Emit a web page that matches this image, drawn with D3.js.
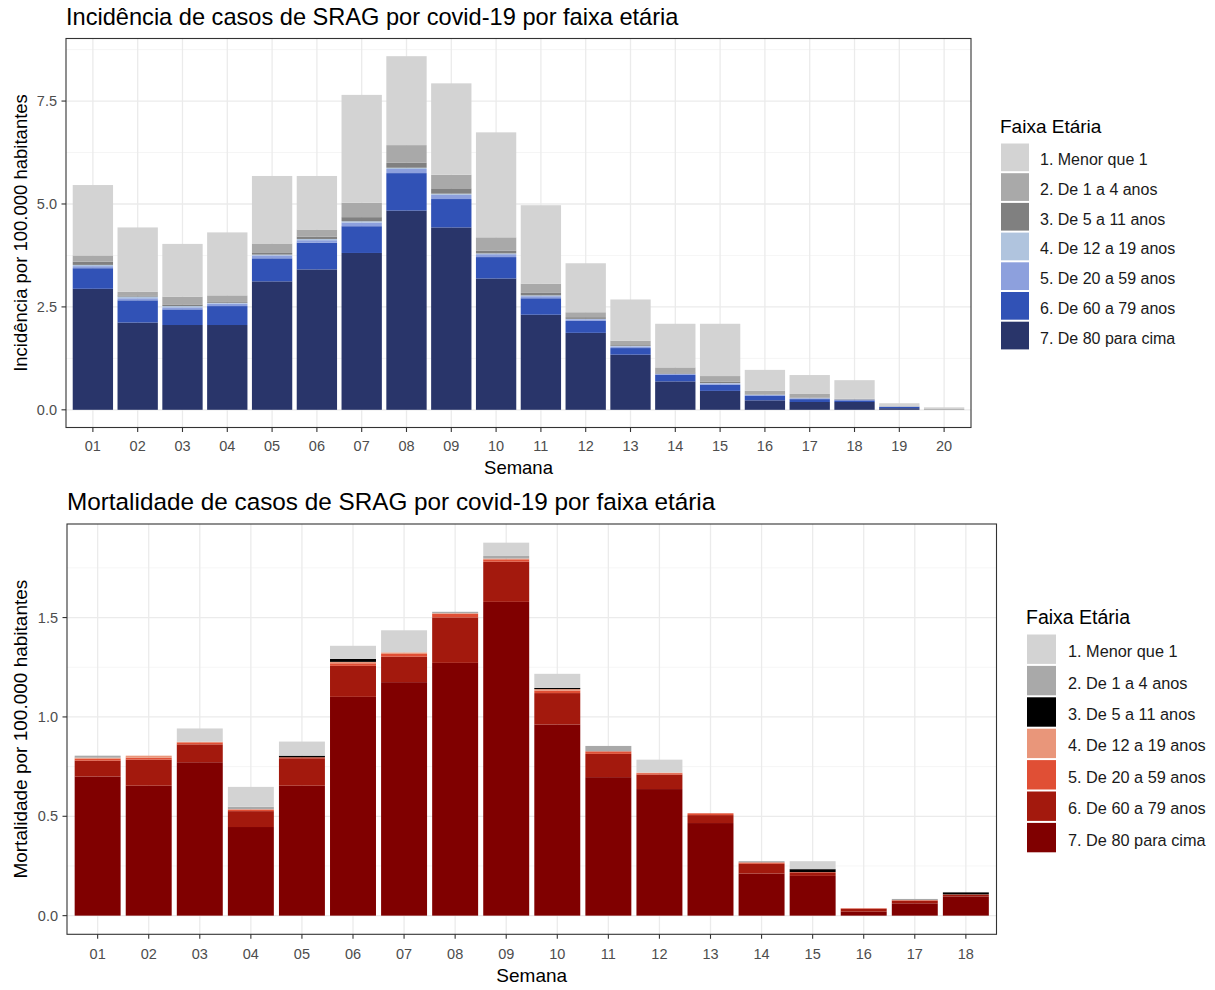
<!DOCTYPE html>
<html>
<head>
<meta charset="utf-8">
<script src="https://cdn.jsdelivr.net/npm/d3@7"></script>
<style>
  html, body { margin: 0; padding: 0; background: #fff; }
  svg { display: block; font-family: "Liberation Sans", Arial, sans-serif; }
</style>
</head>
<body>
<svg id="chart" width="1215" height="990"></svg>
<script>
// ---------- DATA ----------
const groupLabels = ["1. Menor que 1", "2. De 1 a 4 anos", "3. De 5 a 11 anos", "4. De 12 a 19 anos",
                     "5. De 20 a 59 anos", "6. De 60 a 79 anos", "7. De 80 para cima"];

// Incidence chart
const weeksInc = ["01","02","03","04","05","06","07","08","09","10","11","12","13","14","15","16","17","18","19","20"];
const inc1 = [1.71,1.56,1.28,1.53,1.64,1.30,2.62,2.16,2.22,2.55,1.91,1.19,1.00,1.06,1.27,0.51,0.46,0.45,0.07,0.04];
const inc2 = [0.15,0.09,0.19,0.16,0.23,0.17,0.35,0.43,0.33,0.32,0.22,0.12,0.11,0.12,0.14,0.08,0.09,0.01,0.01,0.02];
const inc3 = [0.08,0.03,0.04,0.02,0.04,0.06,0.10,0.12,0.13,0.07,0.06,0.04,0.02,0.03,0.03,0.01,0.01,0.01,0,0];
const inc4 = [0.03,0.04,0.03,0.02,0.02,0.03,0.03,0.03,0.03,0.02,0.02,0.01,0.01,0.01,0.01,0.01,0.005,0,0,0];
const inc5 = [0.05,0.05,0.05,0.06,0.07,0.06,0.09,0.10,0.10,0.07,0.05,0.04,0.04,0.02,0.03,0.02,0.02,0.02,0.01,0];
const inc6 = [0.50,0.54,0.38,0.46,0.56,0.65,0.65,0.91,0.69,0.52,0.40,0.29,0.16,0.16,0.15,0.11,0.07,0.04,0.03,0];
const inc7 = [2.94,2.12,2.06,2.06,3.12,3.41,3.81,4.84,4.43,3.19,2.31,1.87,1.34,0.69,0.46,0.23,0.19,0.19,0.04,0];
const incTicks = [0, 2.5, 5.0, 7.5];
const incColors = ["#d3d3d3","#a9a9a9","#808080","#b0c4de","#8da0dd","#3152b6","#29356a"];

// Mortality chart
const weeksMort = ["01","02","03","04","05","06","07","08","09","10","11","12","13","14","15","16","17","18"];
const mort1 = [0,0,0.067,0.10,0.071,0.066,0.111,0,0.067,0.071,0,0.065,0,0,0.04,0,0,0];
const mort2 = [0.01,0,0,0.012,0,0,0,0.007,0.013,0,0.027,0,0,0.006,0,0,0.006,0];
const mort3 = [0,0,0,0,0.008,0.015,0,0,0,0.006,0,0,0,0,0.015,0,0,0.01];
const mort4 = [0.005,0.01,0.003,0.002,0,0.007,0.008,0.003,0.004,0.007,0,0.003,0,0,0,0,0,0];
const mort5 = [0.01,0.01,0.01,0.008,0.005,0.013,0.014,0.018,0.012,0.013,0.013,0.007,0.009,0.007,0.004,0.002,0.003,0.002];
const mort6 = [0.08,0.131,0.09,0.08,0.138,0.156,0.128,0.229,0.202,0.158,0.117,0.073,0.04,0.049,0.015,0.015,0.013,0.008];
const mort7 = [0.70,0.654,0.772,0.446,0.654,1.101,1.175,1.272,1.579,0.962,0.697,0.637,0.466,0.212,0.200,0.02,0.062,0.097];
const mortTicks = [0, 0.5, 1.0, 1.5];
const mortColors = ["#d3d3d3","#a9a9a9","#000000","#e9967a","#e04f35","#a3190d","#800000"];

// ---------- DRAW ----------
const svg = d3.select("#chart");

function drawChart(cfg) {
  const {weeks, series, ticks, colors, title, yTitle, box, titleY, xLabY, xTitleY, legend} = cfg;
  const rows = weeks.map((w, i) => {
    const r = {week: w};
    series.forEach((s, k) => r["g" + k] = s[i]);
    return r;
  });
  // ggplot: first level on top -> stack bottom-up from group 7 to group 1
  const keys = series.map((s, k) => "g" + k).reverse();
  const stacked = d3.stack().keys(keys)(rows);
  const maxV = d3.max(rows, r => keys.reduce((a, k) => a + r[k], 0));

  // ggplot discrete expansion (0.6 units each side), bars 0.9 wide
  const n = weeks.length;
  const x = d3.scalePoint().domain(weeks)
    .range([box.x0 + 0.6 * (box.x1 - box.x0) / (n - 1 + 1.2), box.x1 - 0.6 * (box.x1 - box.x0) / (n - 1 + 1.2)]);
  const bw = x.step() * 0.9;

  const y = d3.scaleLinear().domain([-0.05 * maxV, 1.05 * maxV]).range([box.y1, box.y0]);

  const g = svg.append("g");
  g.append("rect").attr("x", box.x0).attr("y", box.y0).attr("width", box.x1 - box.x0).attr("height", box.y1 - box.y0).attr("fill", "#fff");
  const step = ticks[1] - ticks[0];
  const minor = [];
  for (let v = ticks[0] - step / 2; v <= 1.05 * maxV; v += step) if (v >= -0.05 * maxV) minor.push(v);
  g.selectAll(".minor").data(minor).enter().append("line")
    .attr("x1", box.x0).attr("x2", box.x1).attr("y1", d => y(d)).attr("y2", d => y(d))
    .attr("stroke", "#f2f2f2").attr("stroke-width", 0.8);
  g.selectAll(".major").data(ticks).enter().append("line")
    .attr("x1", box.x0).attr("x2", box.x1).attr("y1", d => y(d)).attr("y2", d => y(d))
    .attr("stroke", "#ebebeb").attr("stroke-width", 1.3);
  g.selectAll(".vgrid").data(weeks).enter().append("line")
    .attr("x1", d => x(d)).attr("x2", d => x(d)).attr("y1", box.y0).attr("y2", box.y1)
    .attr("stroke", "#ebebeb").attr("stroke-width", 1.3);

  // bars
  stacked.forEach(layer => {
    const gi = series.length - 1 - keys.indexOf(layer.key);
    g.append("g").selectAll("rect").data(layer).enter().append("rect")
      .attr("x", d => x(d.data.week) - bw / 2)
      .attr("width", bw)
      .attr("y", d => y(d[1]))
      .attr("height", d => Math.max(0, y(d[0]) - y(d[1])))
      .attr("fill", colors[gi]);
  });

  // border
  g.append("rect").attr("x", box.x0).attr("y", box.y0).attr("width", box.x1 - box.x0).attr("height", box.y1 - box.y0)
    .attr("fill", "none").attr("stroke", "#333").attr("stroke-width", 1.1);

  // y axis
  g.selectAll(".yt").data(ticks).enter().append("line")
    .attr("x1", box.x0 - 4.5).attr("x2", box.x0).attr("y1", d => y(d)).attr("y2", d => y(d))
    .attr("stroke", "#333").attr("stroke-width", 1.1);
  g.selectAll(".yl").data(ticks).enter().append("text")
    .attr("x", box.x0 - 9).attr("y", d => y(d) + 5).attr("text-anchor", "end")
    .attr("font-size", cfg.tickSize).attr("fill", "#4d4d4d").text(d => d3.format(".1f")(d));
  // x axis
  g.selectAll(".xt").data(weeks).enter().append("line")
    .attr("x1", d => x(d)).attr("x2", d => x(d)).attr("y1", box.y1).attr("y2", box.y1 + 4.5)
    .attr("stroke", "#333").attr("stroke-width", 1.1);
  g.selectAll(".xl").data(weeks).enter().append("text")
    .attr("x", d => x(d)).attr("y", xLabY).attr("text-anchor", "middle")
    .attr("font-size", cfg.tickSize).attr("fill", "#4d4d4d").text(d => d);

  // titles
  g.append("text").attr("x", box.x0).attr("y", titleY).attr("font-size", cfg.titleSize).attr("fill", "#000").text(title);
  g.append("text").attr("x", (box.x0 + box.x1) / 2).attr("y", xTitleY).attr("text-anchor", "middle")
    .attr("font-size", cfg.axisTitleSize).attr("fill", "#000").text("Semana");
  g.append("text").attr("transform", `translate(${cfg.yTitleX},${(box.y0 + box.y1) / 2}) rotate(-90)`)
    .attr("text-anchor", "middle").attr("font-size", cfg.axisTitleSize).attr("fill", "#000").text(yTitle);

  // legend
  const lg = svg.append("g");
  lg.append("text").attr("x", legend.x).attr("y", legend.titleY).attr("font-size", legend.titleSize).attr("fill", "#000").text("Faixa Etária");
  groupLabels.forEach((lab, i) => {
    const yy = legend.y0 + i * legend.step;
    lg.append("rect").attr("x", legend.x + 1).attr("y", yy + 1).attr("width", legend.key - 2).attr("height", legend.step - 2)
      .attr("fill", colors[i]);
    lg.append("text").attr("x", legend.x + legend.key + legend.gap).attr("y", yy + legend.step / 2 + 8)
      .attr("font-size", legend.labelSize).attr("fill", "#1a1a1a").text(lab);
  });
}

drawChart({
  weeks: weeksInc,
  series: [inc1, inc2, inc3, inc4, inc5, inc6, inc7],
  ticks: incTicks,
  colors: incColors,
  title: "Incidência de casos de SRAG por covid-19 por faixa etária",
  titleSize: 23.6,
  tickSize: 14.5,
  axisTitleSize: 18.5,
  yTitle: "Incidência por 100.000 habitantes",
  box: {x0: 66, x1: 971, y0: 38.5, y1: 427.5},
  titleY: 25,
  xLabY: 450.5,
  xTitleY: 474,
  yTitleX: 26.5,
  legend: {x: 1000, titleY: 133, y0: 142.5, step: 29.7, key: 30, gap: 10, titleSize: 19, labelSize: 16}
});

drawChart({
  weeks: weeksMort,
  series: [mort1, mort2, mort3, mort4, mort5, mort6, mort7],
  ticks: mortTicks,
  colors: mortColors,
  title: "Mortalidade de casos de SRAG por covid-19 por faixa etária",
  titleSize: 24.3,
  tickSize: 14.5,
  axisTitleSize: 19,
  yTitle: "Mortalidade por 100.000 habitantes",
  box: {x0: 67, x1: 996.5, y0: 524, y1: 934.3},
  titleY: 509.5,
  xLabY: 958.5,
  xTitleY: 982,
  yTitleX: 26.5,
  legend: {x: 1026, titleY: 624, y0: 633.5, step: 31.4, key: 31, gap: 11, titleSize: 19.5, labelSize: 16.3}
});
</script>
</body>
</html>
